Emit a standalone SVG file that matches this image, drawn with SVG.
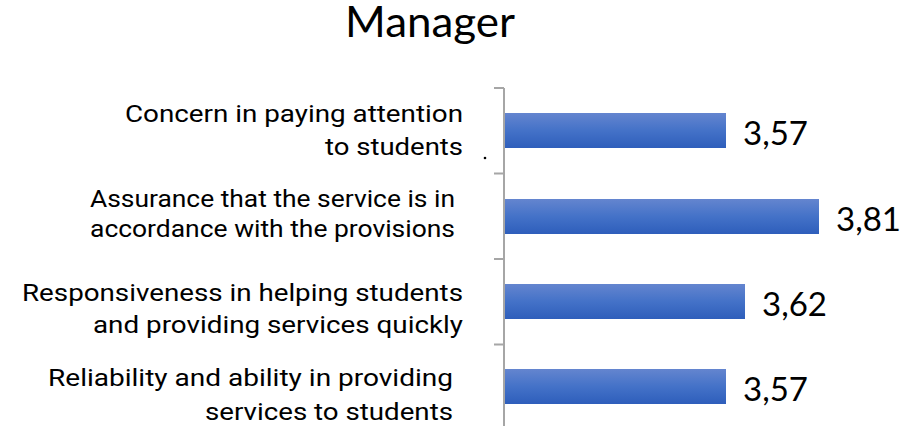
<svg xmlns="http://www.w3.org/2000/svg" width="907" height="426" viewBox="0 0 907 426">
<defs>
<linearGradient id="barg" x1="0" y1="0" x2="0" y2="1">
<stop offset="0" stop-color="#6485CF"/>
<stop offset="0.5" stop-color="#4472C8"/>
<stop offset="1" stop-color="#2E5EBB"/>
</linearGradient>
<style>
.lbl{font-family:Roboto,"Liberation Sans",sans-serif;font-size:24px;fill:#000;text-anchor:end}
.val{font-family:Lato,"Open Sans",sans-serif;font-size:33px;fill:#000}
.title{font-family:Lato,"Open Sans",sans-serif;font-size:42px;fill:#000}
.bar{fill:url(#barg)}
.axis{stroke:#A6A6A6;stroke-width:2;fill:none}
</style>
</defs>
<rect width="907" height="426" fill="#fff"/>
<text class="title" x="345" y="37" textLength="170" lengthAdjust="spacingAndGlyphs">Manager</text>
<g id="axis">
<path class="axis" d="M504 88V430M494 88H504M494 173.5H504M494 259H504M494 344.5H504"/>
</g>
<g id="bar1">
<rect class="bar" x="505" y="113" width="221" height="35"/>
<text class="val" x="743" y="145">3,57</text>
<text class="lbl" x="463" y="122" textLength="338" lengthAdjust="spacingAndGlyphs">Concern in paying attention</text>
<text class="lbl" x="463" y="155" textLength="138" lengthAdjust="spacingAndGlyphs">to students</text>
</g>
<g id="bar2">
<rect class="bar" x="505" y="199" width="314" height="35"/>
<text class="val" x="836" y="231">3,81</text>
<text class="lbl" x="455" y="207" textLength="365" lengthAdjust="spacingAndGlyphs">Assurance that the service is in</text>
<text class="lbl" x="455" y="237" textLength="365" lengthAdjust="spacingAndGlyphs">accordance with the provisions</text>
</g>
<g id="bar3">
<rect class="bar" x="505" y="284" width="240" height="35"/>
<text class="val" x="762" y="316">3,62</text>
<text class="lbl" x="463" y="301" textLength="441" lengthAdjust="spacingAndGlyphs">Responsiveness in helping students</text>
<text class="lbl" x="463" y="333" textLength="370" lengthAdjust="spacingAndGlyphs">and providing services quickly</text>
</g>
<g id="bar4">
<rect class="bar" x="505" y="369" width="221" height="35"/>
<text class="val" x="743" y="401">3,57</text>
<text class="lbl" x="453" y="386" textLength="405" lengthAdjust="spacingAndGlyphs">Reliability and ability in providing</text>
<text class="lbl" x="453" y="420" textLength="248" lengthAdjust="spacingAndGlyphs">services to students</text>
</g>
<circle cx="485" cy="158" r="1.3" fill="#000"/>
</svg>
